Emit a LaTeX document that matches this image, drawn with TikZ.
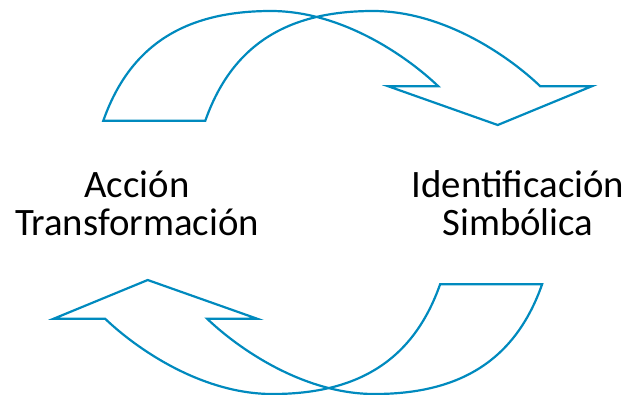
\documentclass[tikz,border=0pt]{standalone}
\usepackage{fontspec}
\setmainfont{Carlito}
\definecolor{cycleblue}{RGB}{0,138,190}
\newcommand\cycleshape{(103.3,120.7) .. controls (130,45) and (185,11) .. (271,11)
  .. controls (341,11) and (405.9,55.3) .. (438.3,86.3)
  -- (388.3,86.3) -- (497.7,125) -- (591.7,86.3) -- (540.3,86.3)
  .. controls (507.9,55.3) and (443,11) .. (373,11)
  .. controls (287,11) and (232,45) .. (205.3,120.7) -- cycle}

\begin{document}
\begin{tikzpicture}[x=1pt, y=-1pt]
  \tikzstyle{stage} = [align=center, inner sep=0pt, anchor=base,
                                    font=\fontsize{38.8}{38}\selectfont]
  \tikzstyle{cyclearrow} = [draw=cycleblue, line width=2.2pt, line join=miter]
\useasboundingbox (0,0) rectangle (628,394);
\draw[cyclearrow] \cycleshape;
\draw[cyclearrow, rotate around={180:(322.7,202.5)}] \cycleshape;
\node[stage](accion) at (137,235.7){Acción\\Transformación};
\node[stage](ident) at (518,235.7){Identificación\\Simbólica};
\end{tikzpicture}
\end{document}
